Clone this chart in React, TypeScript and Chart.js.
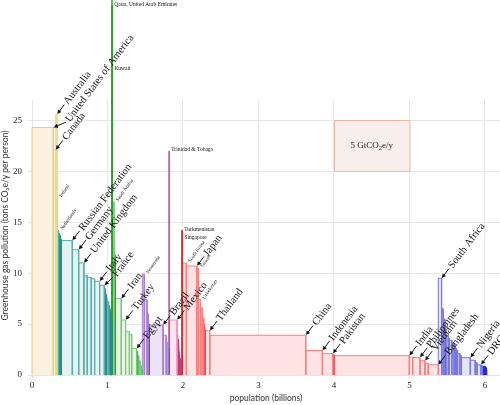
import React, { useEffect, useRef } from 'react';
import { Chart, registerables } from 'chart.js';

Chart.register(...registerables);

// ---- data -----------------------------------------------------------
const countries: string[] = [
  'United States of America', 'Canada', 'Australia',
  'Ireland', 'Netherlands', 'Belgium', 'Czech Republic', 'Finland', 'Denmark', 'Norway',
  'Russian Federation', 'Germany', 'United Kingdom', 'Poland', 'Ukraine', 'Spain', 'Italy', 'France',
  'Belarus', 'Sweden', 'Switzerland', 'Hungary', 'Romania', 'Portugal', 'Bulgaria', 'Serbia',
  'Croatia', 'Lithuania', 'Slovakia', 'Latvia',
  'Qatar', 'United Arab Emirates', 'Kuwait', 'Saudi Arabia', 'Oman', 'Kazakhstan', 'Israel',
  'Iran', 'Turkey', 'Iraq', 'Syria', 'Egypt', 'Jordan', 'Yemen', 'Afghanistan', 'Tajikistan', 'Lebanon',
  'Venezuela', 'Argentina', 'Chile', 'Bolivia', 'Uruguay', 'Brazil', 'Colombia', 'Peru', 'Ecuador',
  'Trinidad & Tobago', 'Mexico', 'Cuba', 'Dominican Republic', 'Panama', 'Costa Rica', 'Guatemala',
  'Honduras', 'El Salvador', 'Nicaragua', 'Haiti',
  'Turkmenistan', 'Singapore', 'South Korea', 'Japan', 'Taiwan', 'Uzbekistan', 'Malaysia',
  'North Korea', 'Azerbaijan', 'Kyrgyzstan', 'Mongolia', 'Thailand', 'China', 'Indonesia', 'Pakistan',
  'Sri Lanka', 'India', 'Myanmar', 'Philippines', 'Vietnam', 'Nepal', 'Bangladesh',
  'South Africa', 'Zimbabwe', 'Algeria', 'Zambia', 'Sudan', 'Angola', 'Tanzania', 'Morocco', 'Cameroon',
  "Côte d'Ivoire", 'Madagascar', 'Kenya', 'Ghana', 'Nigeria', 'Ethiopia', 'Uganda', 'DRC',
  'Mozambique', 'Mali', 'Niger', 'Malawi', 'Burkina Faso', 'Chad', 'Rwanda',
];

// population, billions
const populations: number[] = [
  0.282, 0.031, 0.019,
  0.004, 0.016, 0.010, 0.010, 0.005, 0.005, 0.0045,
  0.147, 0.085, 0.069, 0.044, 0.053, 0.045, 0.066, 0.062,
  0.010, 0.009, 0.007, 0.010, 0.022, 0.010, 0.008, 0.010,
  0.0045, 0.0035, 0.005, 0.0024,
  0.0008, 0.003, 0.0022, 0.022, 0.0025, 0.012, 0.0063,
  0.075, 0.057, 0.050, 0.031, 0.066, 0.012, 0.015, 0.018, 0.022, 0.008,
  0.025, 0.037, 0.015, 0.0085, 0.0034, 0.185, 0.042, 0.026, 0.012,
  0.0013, 0.105, 0.011, 0.0085, 0.003, 0.004, 0.011,
  0.0065, 0.006, 0.005, 0.008,
  0.005, 0.004, 0.050, 0.140, 0.022, 0.025, 0.023,
  0.022, 0.008, 0.005, 0.0025, 0.063, 1.272, 0.220, 0.140,
  0.012, 1.000, 0.044, 0.097, 0.066, 0.044, 0.133,
  0.044, 0.021, 0.023, 0.010, 0.034, 0.013, 0.035, 0.029, 0.015,
  0.016, 0.016, 0.031, 0.019, 0.118, 0.065, 0.024, 0.052,
  0.018, 0.011, 0.011, 0.011, 0.012, 0.008, 0.008,
];

// tons CO2e / y per person
const emissions: number[] = [
  24.3, 22.1, 25.6,
  17.4, 14.2, 13.9, 13.7, 13.5, 13.4, 13.3,
  13.2, 12.3, 11.0, 9.75, 9.6, 9.45, 9.2, 8.8,
  8.5, 8.2, 7.9, 7.6, 7.2, 6.8, 6.5, 6.2,
  6.0, 5.8, 5.6, 5.3,
  55, 36.3, 30, 17.0, 12.5, 11.8, 10.5,
  7.5, 5.4, 4.25, 4.0, 2.6, 2.3, 1.9, 1.4, 0.9, 0.5,
  9.9, 7.4, 6.0, 5.3, 5.0, 4.9, 3.9, 3.2, 2.6,
  22.0, 5.4, 4.0, 3.5, 2.8, 2.3, 2.0,
  1.6, 1.3, 1.0, 0.6,
  14.2, 13.4, 11.0, 10.7, 10.5, 7.4, 6.6,
  5.6, 5.0, 4.7, 4.5, 4.35, 3.9, 2.4, 2.1,
  2.0, 1.9, 1.75, 1.72, 1.4, 1.15, 1.0,
  9.5, 6.5, 5.4, 4.5, 3.9, 3.6, 3.4, 3.1, 2.9,
  2.6, 2.4, 2.1, 1.9, 1.7, 1.45, 1.2, 1.0,
  0.9, 0.88, 0.86, 0.84, 0.8, 0.7, 0.5,
];

// 0 USA, 1 Canada/Australia, 2 Europe, 3 Middle East & C. Asia, 4 South America,
// 5 Central America & Caribbean, 6 Asia, 7 Africa
const regions: number[] = [
  0, 1, 1,
  2, 2, 2, 2, 2, 2, 2,
  2, 2, 2, 2, 2, 2, 2, 2,
  2, 2, 2, 2, 2, 2, 2, 2,
  2, 2, 2, 2,
  3, 3, 3, 3, 3, 3, 3,
  3, 3, 3, 3, 3, 3, 3, 3, 3, 3,
  4, 4, 4, 4, 4, 4, 4, 4, 4,
  5, 5, 5, 5, 5, 5, 5,
  5, 5, 5, 5,
  6, 6, 6, 6, 6, 6, 6,
  6, 6, 6, 6, 6, 6, 6, 6,
  6, 6, 6, 6, 6, 6, 6,
  7, 7, 7, 7, 7, 7, 7, 7, 7,
  7, 7, 7, 7, 7, 7, 7, 7,
  7, 7, 7, 7, 7, 7, 7,
];

const arrowLabels: string[] = [
  'Australia', 'United States of America', 'Canada', 'Russian Federation', 'Germany',
  'United Kingdom', 'Italy', 'France', 'Iran', 'Turkey', 'Egypt', 'Brazil', 'Mexico', 'Japan',
  'Thailand', 'China', 'Indonesia', 'Pakistan', 'India', 'Philippines', 'Vietnam', 'Bangladesh',
  'South Africa', 'Nigeria', 'DRC',
];
const slantLabels: string[] = [
  'Ireland', 'Netherlands', 'Saudi Arabia', 'Venezuela', 'South Korea', 'Taiwan', 'Uzbekistan',
];
// [text, country it belongs to]
const flatLabels: [string, string][] = [
  ['Qatar, United Arab Emirates', 'United Arab Emirates'],
  ['Kuwait', 'Kuwait'],
  ['Trinidad & Tobago', 'Trinidad & Tobago'],
  ['Turkmenistan', 'Turkmenistan'],
  ['Singapore', 'Singapore'],
];

const xTickValues: number[] = [0, 1, 2, 3, 4, 5, 6];
const yTickValues: number[] = [0, 5, 10, 15, 20, 25];
const budgetPopulation: number[] = [4, 5];
const budgetLevel: number[] = [20, 25];
const budgetText = ['5 GtCO', '2', 'e/y'];
const xTitle = 'population (billions)';
const yTitle = 'Greenhouse gas pollution (tons CO\u2082e/y per person)';

// ---- styles ---------------------------------------------------------
const regionStroke = ['#f7c27c', '#e4df78', '#5aaeae', '#78c878', '#a47ed6', '#ec8fbc', '#ff7c7c', '#7676e8'];
const regionDark = ['#f0a94a', '#d2cc4a', '#2e8c8c', '#2ea02e', '#7b3fbf', '#c43c7a', '#ea2828', '#2a2ad2'];
const regionFill = ['#fdf1df', '#fbf9dc', '#e3f1f1', '#e7f5e3', '#ede3f6', '#fae6ef', '#fde3e3', '#e4e4f9'];
// sideways shift of a few crowded labels (px, towards lower right)
const labelShift: Record<string, number> = { 'United States of America': 7, France: 2 };

const SERIF = '"Liberation Serif", "DejaVu Serif", serif';
const SANS = 'Lato, "Noto Sans", sans-serif';

const starts: number[] = [];
{
  let acc = 0;
  populations.forEach((p) => {
    starts.push(acc);
    acc += p;
  });
}

export default function App() {
  const ref = useRef<HTMLCanvasElement | null>(null);

  useEffect(() => {
    document.body.style.margin = '0';
    const canvas = ref.current;
    if (!canvas) return;

    const datasets = countries.map((name, i) => {
      const x0 = starts[i];
      const x1 = x0 + populations[i];
      const v = emissions[i];
      const r = regions[i];
      return {
        label: name,
        data: [
          { x: x0, y: 0 },
          { x: x0, y: v },
          { x: x1, y: v },
          { x: x1, y: 0 },
        ],
        borderColor: populations[i] < 0.013 ? regionDark[r] : regionStroke[r],
        backgroundColor: regionFill[r],
        fill: 'origin',
        borderWidth: 1,
        pointRadius: 0,
        tension: 0,
        clip: false,
      };
    });

    const endOf = (name: string) => {
      const i = countries.indexOf(name);
      return { x: starts[i] + populations[i], y: emissions[i] };
    };

    const budgetPlugin = {
      id: 'budget',
      beforeDatasetsDraw(chart: any) {
        const { ctx, scales } = chart;
        const xs = scales.x;
        const ys = scales.y;
        const l = xs.getPixelForValue(budgetPopulation[0]);
        const r = xs.getPixelForValue(budgetPopulation[1]);
        const t = ys.getPixelForValue(budgetLevel[1]);
        const b = ys.getPixelForValue(budgetLevel[0]);
        ctx.save();
        ctx.fillStyle = '#f8efed';
        ctx.strokeStyle = '#e8b7a6';
        ctx.lineWidth = 1;
        ctx.fillRect(l, t, r - l, b - t);
        ctx.strokeRect(Math.round(l) + 0.5, Math.round(t) + 0.5, r - l, b - t);
        ctx.fillStyle = '#222';
        ctx.textBaseline = 'middle';
        const big = `9px ${SERIF}`;
        const small = `6.5px ${SERIF}`;
        ctx.font = big;
        const w0 = ctx.measureText(budgetText[0]).width;
        const w2 = ctx.measureText(budgetText[2]).width;
        ctx.font = small;
        const w1 = ctx.measureText(budgetText[1]).width;
        const total = w0 + w1 + w2;
        let cx = (l + r) / 2 - total / 2;
        const cy = (t + b) / 2;
        ctx.textAlign = 'left';
        ctx.font = big;
        ctx.fillText(budgetText[0], cx, cy);
        cx += w0;
        ctx.font = small;
        ctx.fillText(budgetText[1], cx, cy + 2.5);
        cx += w1;
        ctx.font = big;
        ctx.fillText(budgetText[2], cx, cy);
        ctx.restore();
      },
    };

    const labelPlugin = {
      id: 'countryLabels',
      afterDatasetsDraw(chart: any) {
        const { ctx, scales } = chart;
        const xs = scales.x;
        const ys = scales.y;
        ctx.save();
        ctx.fillStyle = '#111';
        ctx.strokeStyle = '#111';
        // big labels with arrows
        const ang = (-53 * Math.PI) / 180;
        arrowLabels.forEach((name) => {
          const e = endOf(name);
          const px = xs.getPixelForValue(e.x);
          const py = ys.getPixelForValue(e.y);
          const s = labelShift[name] || 0;
          ctx.save();
          ctx.translate(px, py);
          ctx.rotate(ang);
          // text start in rotated frame: along 14, across s (positive = lower right)
          const tx = 14;
          const ty = s;
          const len = Math.hypot(tx - 2, ty);
          const ux = (tx - 2) / len;
          const uy = ty / len;
          ctx.lineWidth = 0.9;
          ctx.beginPath();
          ctx.moveTo(ux * 3, uy * 3);
          ctx.lineTo(tx - 2, ty);
          ctx.stroke();
          ctx.beginPath();
          ctx.moveTo(ux * 0.3, uy * 0.3);
          ctx.lineTo(ux * 4.5 + uy * 2.1, uy * 4.5 - ux * 2.1);
          ctx.lineTo(ux * 4.5 - uy * 2.1, uy * 4.5 + ux * 2.1);
          ctx.closePath();
          ctx.fill();
          ctx.font = `10.5px ${SERIF}`;
          ctx.textAlign = 'left';
          ctx.textBaseline = 'middle';
          ctx.fillText(name, tx, ty + 0.5);
          ctx.restore();
        });
        // small slanted labels
        const ang2 = (-55 * Math.PI) / 180;
        slantLabels.forEach((name) => {
          const e = endOf(name);
          const px = xs.getPixelForValue(e.x);
          const py = ys.getPixelForValue(e.y);
          ctx.save();
          ctx.translate(px + 3, py - 1);
          ctx.rotate(ang2);
          ctx.font = `5px ${SERIF}`;
          ctx.textAlign = 'left';
          ctx.textBaseline = 'middle';
          ctx.fillText(name, 0, 0);
          ctx.restore();
        });
        // small horizontal labels
        flatLabels.forEach(([text, name]) => {
          const e = endOf(name);
          const px = xs.getPixelForValue(e.x);
          const py = ys.getPixelForValue(e.y);
          ctx.font = `5.5px ${SERIF}`;
          ctx.textAlign = 'left';
          ctx.textBaseline = 'middle';
          ctx.fillText(text, px + 2, py - 1);
        });
        ctx.restore();
      },
      afterDraw(chart: any) {
        const { ctx, chartArea } = chart;
        ctx.save();
        ctx.translate(5, (chartArea.top + chartArea.bottom) / 2 - 12);
        ctx.rotate(-Math.PI / 2);
        ctx.font = `8.5px ${SANS}`;
        ctx.fillStyle = '#333';
        ctx.textAlign = 'center';
        ctx.textBaseline = 'middle';
        ctx.fillText(yTitle, 0, 0);
        ctx.restore();
      },
    };

    const chart = new Chart(canvas, {
      type: 'line',
      data: { datasets: datasets as any },
      options: {
        animation: false,
        responsive: false,
        devicePixelRatio: 1,
        events: [],
        layout: { padding: { top: 100, left: 0, right: 0, bottom: 0 } },
        plugins: {
          legend: { display: false },
          tooltip: { enabled: false },
        },
        scales: {
          x: {
            type: 'linear',
            min: 0,
            max: 6.2,
            afterBuildTicks: (axis: any) => {
              axis.ticks = xTickValues.map((v) => ({ value: v }));
            },
            afterFit: (axis: any) => {
              axis.height = 30;
            },
            ticks: {
              color: '#222',
              font: { family: SERIF, size: 9 },
              padding: 2,
              maxRotation: 0,
            },
            grid: { color: '#e6e6e6', tickLength: 3 },
            border: { display: false },
            title: {
              display: true,
              text: xTitle,
              color: '#333',
              font: { family: SANS, size: 8.5 },
              padding: { top: 0, bottom: 2 },
            },
          },
          y: {
            type: 'linear',
            min: 0,
            max: 27,
            afterBuildTicks: (axis: any) => {
              axis.ticks = yTickValues.map((v) => ({ value: v }));
            },
            afterFit: (axis: any) => {
              axis.width = 32;
            },
            ticks: {
              color: '#222',
              font: { family: SERIF, size: 9 },
              padding: 6,
            },
            grid: { color: '#e6e6e6', tickLength: 4 },
            border: { display: false },
          },
        },
      },
      plugins: [budgetPlugin, labelPlugin],
    });

    return () => chart.destroy();
  }, []);

  return (
    <div style={{ position: 'absolute', left: 0, top: 0, width: 500, height: 405 }}>
      <canvas ref={ref} width={500} height={405} style={{ display: 'block', width: 500, height: 405 }} />
    </div>
  );
}
